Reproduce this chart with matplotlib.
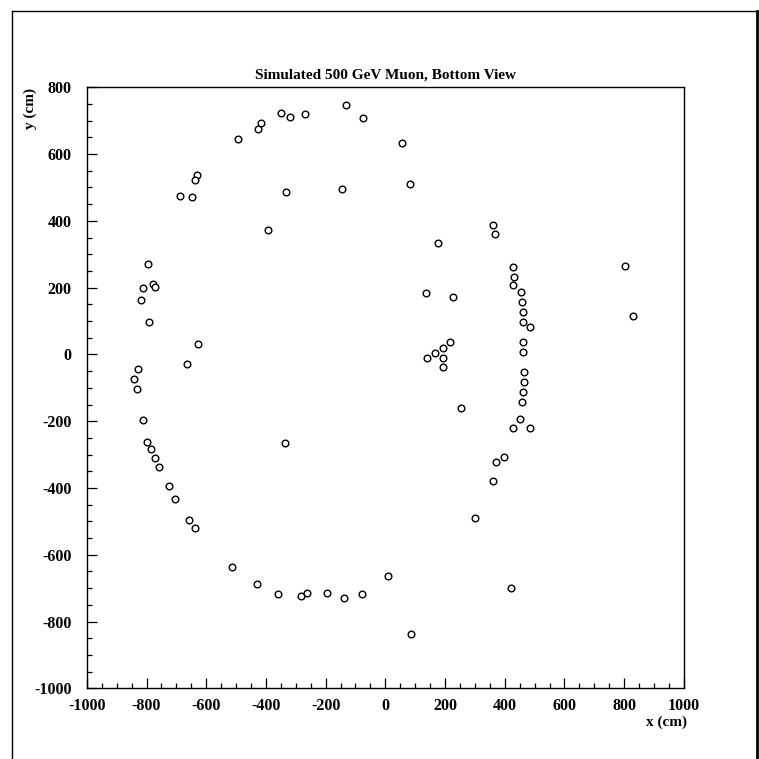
import matplotlib
matplotlib.use("Agg")
import matplotlib.pyplot as plt
from matplotlib.lines import Line2D
from matplotlib.ticker import MultipleLocator, FuncFormatter

# ---------------------------  hit positions (cm)  ---------------------------

x_hits = [-131, -75, -348, -320, -268, -416, -427, -493, -632, -638,
          -688, -647, -334, -144, -393, -794, -813, -777, -773, -818,
          -791, -628, -665, -827, -841, -831, 56, 84, 362, 369,
          178, 427, 803, 431, 428, 455, 137, 226, 458, 460,
          829, 462, 486, 218, 193, 167, 140, 194, 193, 462,
          462, 465, 464, 461, 458, 253, 451, 429, 486, 398,
          372, 362, 300, 10, 420, -78, -138, 85, -812, -798,
          -786, -771, -758, -724, -706, -659, -639, -337, -515, -429,
          -360, -283, -263, -195]
y_hits = [747, 708, 723, 712, 720, 692, 676, 644, 536, 521,
          474, 471, 485, 495, 372, 271, 199, 211, 202, 164,
          98, 32, -28, -44, -74, -103, 634, 509, 388, 361,
          333, 261, 264, 233, 208, 187, 185, 172, 156, 127,
          114, 97, 83, 37, 20, 4, -10, -10, -39, 36,
          7, -53, -83, -112, -142, -160, -194, -221, -219, -308,
          -322, -378, -490, -663, -699, -716, -728, -836, -197, -262,
          -284, -309, -337, -393, -434, -495, -520, -264, -636, -688,
          -718, -722, -715, -713]

title = "Simulated 500 GeV Muon, Bottom View"

# -----------------------------------------  style  -----------------------------------------

plt.rcParams['font.family'] = ['Liberation Serif', 'DejaVu Serif']
plt.rcParams['font.weight'] = 'bold'
plt.rcParams['axes.unicode_minus'] = False

fig = plt.figure(figsize=(7.59, 7.59), dpi=100)
ax = fig.add_axes([0.1144, 0.0931, 0.7866, 0.7919])

ax.plot(x_hits, y_hits, linestyle='none', marker='o', markersize=4.8,
        markerfacecolor='white', markeredgecolor='black', markeredgewidth=1.0)

ax.set_xlim(-1000, 1000)
ax.set_ylim(-1000, 800)

ax.xaxis.set_major_locator(MultipleLocator(200))
ax.xaxis.set_minor_locator(MultipleLocator(50))
ax.yaxis.set_major_locator(MultipleLocator(200))
ax.yaxis.set_minor_locator(MultipleLocator(50))
fmt = FuncFormatter(lambda v, p: "%d" % v)
ax.xaxis.set_major_formatter(fmt)
ax.yaxis.set_major_formatter(fmt)

ax.tick_params(which='both', direction='in', top=False, right=False,
               width=0.9, labelsize=11.5)
ax.tick_params(axis='x', which='major', length=7, pad=7)
ax.tick_params(axis='y', which='major', length=7, pad=11)
ax.tick_params(which='minor', length=3.5)
for lab in ax.get_xticklabels() + ax.get_yticklabels():
    lab.set_fontweight('bold')

for s in ax.spines.values():
    s.set_linewidth(1.0)

ax.set_title(title, fontsize=11, fontweight='bold', pad=6)

fig.text(30 / 759, 1 - 88 / 759, "y (cm)", rotation=90, ha='center', va='top',
         fontsize=11, fontweight='bold')
fig.text(687 / 759, 1 - 722 / 759, "x (cm)", ha='right', va='center',
         fontsize=11, fontweight='bold')

# outer frame of the page
fig.add_artist(Line2D([12 / 759, 12 / 759], [0, 1 - 11 / 759], color='black', lw=1.0))
fig.add_artist(Line2D([12 / 759, 757 / 759], [1 - 11 / 759, 1 - 11 / 759], color='black', lw=1.0))
fig.add_artist(Line2D([757 / 759, 757 / 759], [0, 1 - 11 / 759], color='black', lw=2.0))

fig.savefig("out.png", dpi=100)
